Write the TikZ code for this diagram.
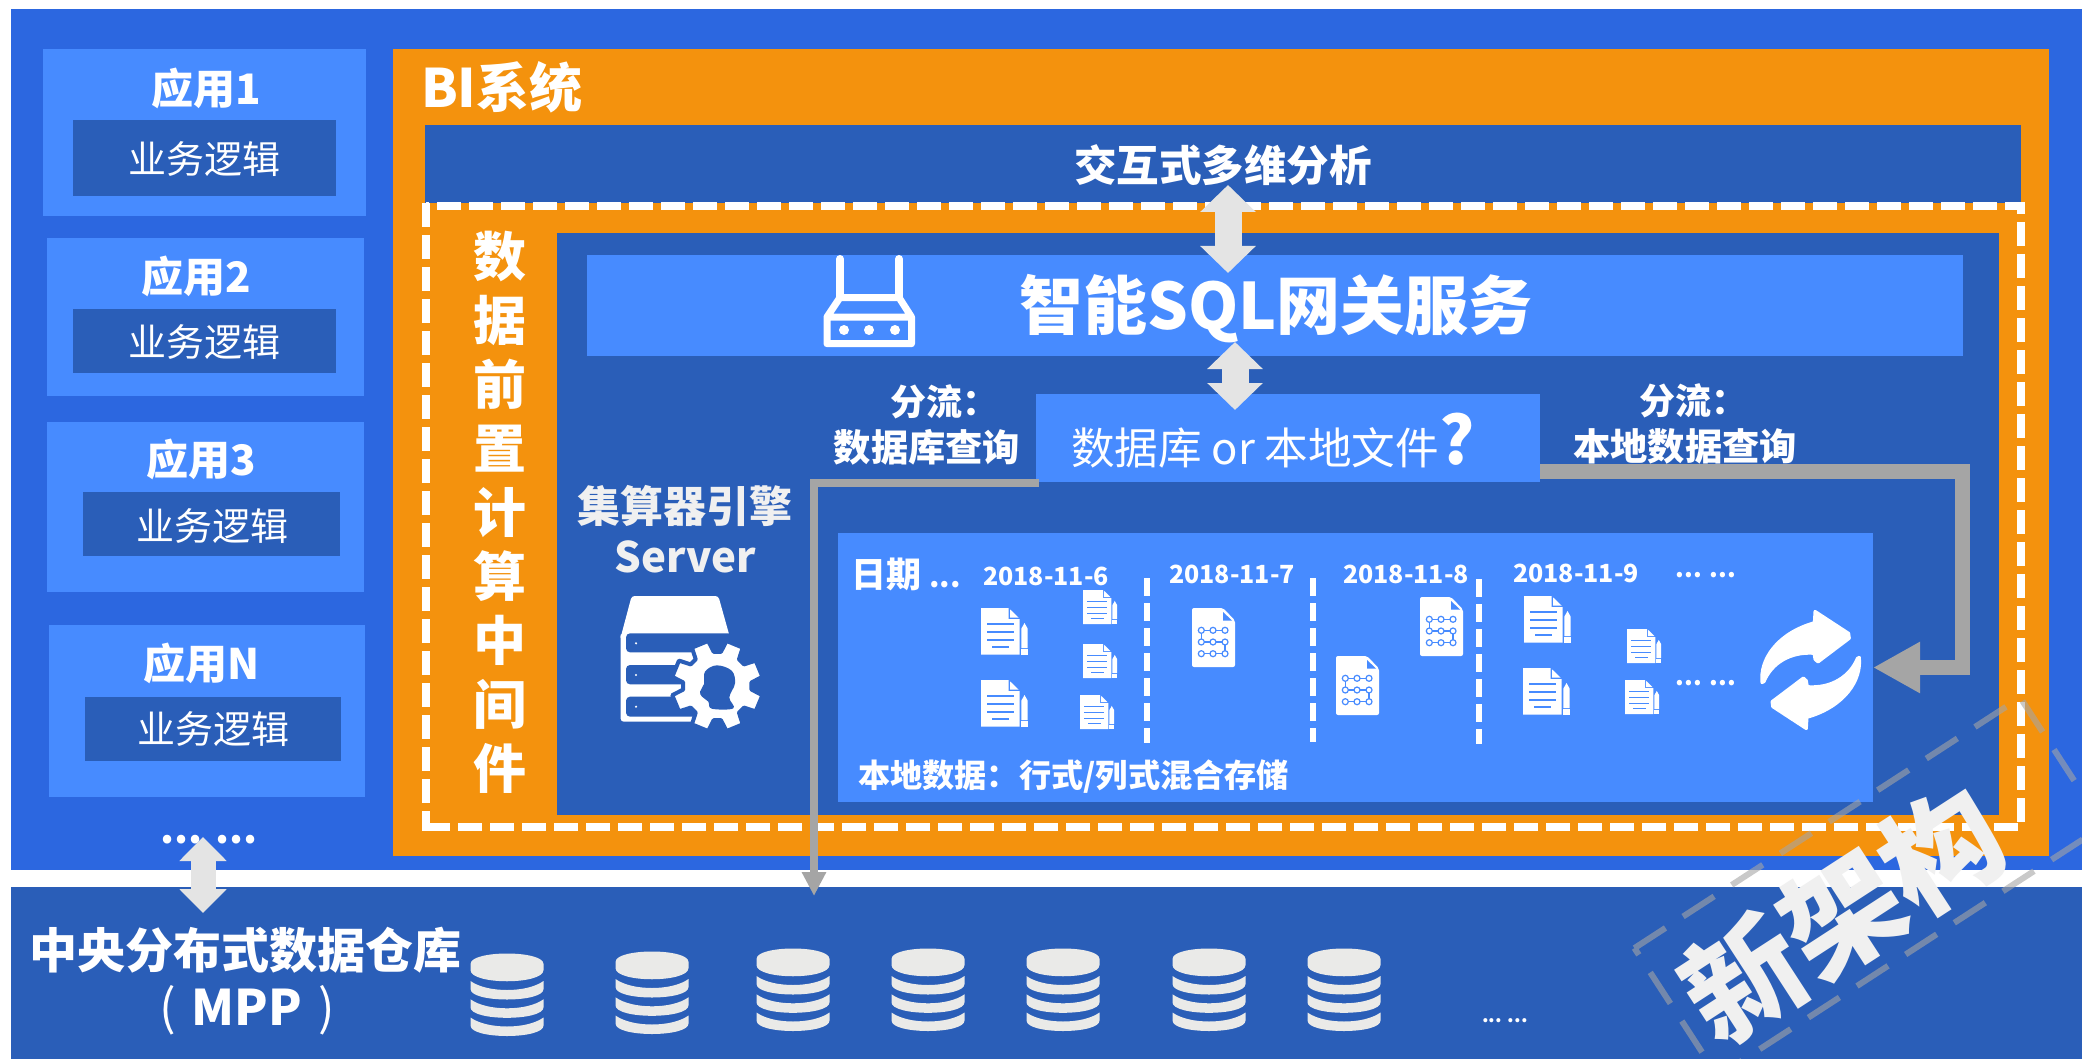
\documentclass[tikz,border=0pt]{standalone}
\usepackage{fontspec}
\setmainfont{Noto Sans CJK SC}
\usetikzlibrary{arrows.meta}
\definecolor{bgblue}{RGB}{44,103,224}
\definecolor{ltblue}{RGB}{71,139,255}
\definecolor{dkblue}{RGB}{42,94,184}
\definecolor{orng}{RGB}{244,146,13}
\definecolor{midgray}{RGB}{165,165,165}
\definecolor{ltgray}{RGB}{228,228,228}
\definecolor{dbgray}{RGB}{234,234,232}
\definecolor{softwhite}{RGB}{240,240,240}
\newcommand\fsz[1]{\fontsize{#1}{#1}\selectfont}
\newcommand\rbox[6]{%
  \pgfmathsetmacro\bw{#4-#2}\pgfmathsetmacro\bh{#5-#3}%
  \pgfmathsetmacro\bcx{(#4+#2)/2}\pgfmathsetmacro\bcy{(#5+#3)/2}%
  \node[rbase,fill=#6,minimum width=\bw pt,minimum height=\bh pt] (#1) at (\bcx,\bcy) {};}
\tikzset{
  rbase/.style={rectangle,inner sep=0pt,outer sep=0pt,draw=none},
  lbl/.style={inner sep=0pt,outer sep=0pt,text=white},
  twoway/.style={ltgray,line width=27pt,{Triangle[length=27pt,width=54pt]}-{Triangle[length=27pt,width=54pt]}},
  pics/dbicon/.style={code={
    \fill[dbgray] (-36.5,11) .. controls (-36.5,-3) and (36.5,-3) .. (36.5,11) -- (36.5,17) .. controls (36.5,32) and (-36.5,32) .. (-36.5,17) -- cycle;
    \foreach \o in {0,18.3,36.5}{
      \fill[dbgray] (-36.5,28+\o) .. controls (-20,40+\o) and (20,40+\o) .. (36.5,28+\o) -- (36.5,36+\o) .. controls (36.5,50+\o) and (-36.5,50+\o) .. (-36.5,36+\o) -- cycle;
    }}},
  pics/docicon/.style={code={
    \fill[white] (0,0) -- (27.7,0) -- (27.7,11) -- (38.7,11) -- (38.7,46.7) -- (0,46.7) -- cycle;
    \fill[white] (29,1.3) -- (37.7,9.7) -- (29,9.7) -- cycle;
    \fill[ltblue] (6,15.3) rectangle (33.3,16.8);
    \fill[ltblue] (6,23) rectangle (33.3,24.5);
    \fill[ltblue] (6,31.2) rectangle (33.3,32.7);
    \fill[ltblue] (11,38) rectangle (28.3,39.5);
    \fill[white] (43.5,15) -- (46.7,20.7) -- (46.7,40) -- (40.3,40) -- (40.3,20.7) -- cycle;
    \fill[white] (40.3,41) rectangle (46.7,46.7);
  }},
  pics/flowdoc/.style={code={
    \fill[white,rounded corners=2pt] (0,0) -- (31,0) -- (43,12.5) -- (43,59) -- (0,59) -- cycle;
    \fill[ltblue] (31,4) -- (40,12.5) -- (31,12.5) -- cycle;
    \draw[ltblue,line width=1.2pt] (9.3,22.3) -- (33,22.3) (9.3,34) -- (33,34) (9.3,45.7) -- (33,45.7) (9.3,22.3) -- (9.3,34) (33,34) -- (33,45.7);
    \foreach \cx in {9.3,21,33}\foreach \cy in {22.3,34,45.7}{
      \filldraw[fill=white,draw=ltblue,line width=1.2pt] (\cx,\cy) circle[radius=3pt];
    }
  }},
}
\begin{document}
\begin{tikzpicture}[x=1pt,y=-1pt]
\useasboundingbox (0,0) rectangle (2082,1059);
\clip (0,0) rectangle (2082,1059);
\fill[white] (0,0) rectangle (2082,1059);
% panels
\rbox{back}{11}{9}{2082}{870}{bgblue}
\rbox{wh}{11}{887}{2082}{1059}{dkblue}
\rbox{app1}{43}{49}{366}{216}{ltblue}
\rbox{logic1}{73}{120}{336}{196}{dkblue}
\rbox{app2}{47}{238}{364}{396}{ltblue}
\rbox{logic2}{73}{309}{336}{373}{dkblue}
\rbox{app3}{47}{422}{364}{592}{ltblue}
\rbox{logic3}{83}{492}{340}{556}{dkblue}
\rbox{appn}{49}{625}{365}{797}{ltblue}
\rbox{logicn}{85}{697}{341}{761}{dkblue}
\rbox{bi}{393}{49}{2049}{856}{orng}
\rbox{inter}{425}{125}{2021}{203}{dkblue}
\node[rbase,minimum width=1595pt,minimum height=621pt] (mid) at (1223.5,516.5) {};
\draw[white,line width=7.5pt,dash pattern=on 24pt off 8pt,dash phase=21pt] (mid.north west) -- (mid.north east) -- (mid.south east) -- (mid.south west);
\draw[white,line width=7.5pt,dash pattern=on 24pt off 8pt,dash phase=31pt] ([yshift=4pt]mid.north west) -- ([yshift=-4pt]mid.south west);
\rbox{panel}{557}{233}{1999}{815}{dkblue}
\rbox{gw}{587}{255}{1963}{356}{ltblue}
\rbox{qbox}{1036}{394}{1540}{482}{ltblue}
\rbox{lbox}{838}{533}{1873}{802}{ltblue}
% left texts
\node[lbl,font=\bfseries\fsz{42}] (t1) at (206,88) {应用1};
\node[lbl,font=\fsz{38}] (l1) at (204,159) {业务逻辑};
\node[lbl,font=\bfseries\fsz{42}] (t2) at (196,276) {应用2};
\node[lbl,font=\fsz{38}] (l2) at (204,342) {业务逻辑};
\node[lbl,font=\bfseries\fsz{42}] (t3) at (201,459) {应用3};
\node[lbl,font=\fsz{38}] (l3) at (212,526) {业务逻辑};
\node[lbl,font=\bfseries\fsz{42}] (tn) at (202,663) {应用N};
\node[lbl,font=\fsz{38}] (ln) at (213,729) {业务逻辑};
\node[lbl,font=\bfseries\fsz{40}] (appdots) at (209,840) {... ...};
% BI
\node[lbl,font=\bfseries\fsz{53},anchor=west] (bit) at (421,87) {BI系统};
\node[lbl,font=\bfseries\fsz{42.5}] (intert) at (1223,165) {交互式多维分析};
\node[lbl,align=center,font=\bfseries\fontsize{53}{64}\selectfont] (midt) at (500,512) {数\\据\\前\\置\\计\\算\\中\\间\\件};
\node[lbl,font=\bfseries\fsz{64}] (gwt) at (1276,309) {智能SQL网关服务};
\node[lbl,font=\bfseries\fsz{36},anchor=west] (f1) at (890,402) {分流：};
\node[lbl,font=\bfseries\fsz{37.3}] (f2) at (927,447) {数据库查询};
\node[lbl,font=\bfseries\fsz{36},anchor=west] (f3) at (1639,401) {分流：};
\node[lbl,font=\bfseries\fsz{37.3}] (f4) at (1685,446) {本地数据查询};
\node[lbl,font=\fsz{43.6},anchor=west] (qt) at (1071,441) {数据库 or 本地文件{\bfseries\fsz{66}?}};
\node[lbl,text=softwhite,font=\bfseries\fsz{43}] (eng) at (685,506) {集算器引擎};
\node[lbl,text=softwhite,font=\bfseries\fsz{42}] (srv) at (685,557) {Server};
% local
\node[lbl,font=\bfseries\fsz{35},anchor=west] (date) at (851,574) {日期 {\fsz{30}...}};
\node[lbl,font=\bfseries\fsz{25}] (d6) at (1046,576) {2018-11-6};
\node[lbl,font=\bfseries\fsz{25}] (d7) at (1232,574) {2018-11-7};
\node[lbl,font=\bfseries\fsz{25}] (d8) at (1406,574) {2018-11-8};
\node[lbl,font=\bfseries\fsz{25}] (d9) at (1576,573) {2018-11-9};
\node[lbl,font=\bfseries\fsz{25}] (dd1) at (1706,575) {... ...};
\node[lbl,font=\bfseries\fsz{25}] (dd2) at (1706,683) {... ...};
\node[lbl,font=\bfseries\fsz{32.2},anchor=west] (store) at (858,777) {本地数据：行式/列式混合存储};
\foreach \xx/\ya/\yb in {1147/578/743,1312.5/578/742,1479/579/744}{
  \draw[white,line width=6pt,dash pattern=on 18pt off 7pt] (\xx,\ya) -- (\xx,\yb);
}
% doc icons
\pic at (981,608) {docicon};
\pic at (981,680) {docicon};
\pic at (1524,596) {docicon};
\pic at (1523,668) {docicon};
\pic[scale=.73] at (1083,590) {docicon};
\pic[scale=.73] at (1083,644) {docicon};
\pic[scale=.73] at (1080,695) {docicon};
\pic[scale=.73] at (1627,629) {docicon};
\pic[scale=.73] at (1625,680) {docicon};
\pic at (1192,608) {flowdoc};
\pic at (1336,656) {flowdoc};
\pic at (1420,597) {flowdoc};
% sync icon
\begin{scope}[shift={(1740,600)},scale=.33333]
  \foreach \rr in {0,180}{
  \begin{scope}[rotate around={\rr:(212,210)}]
    \filldraw[white,line width=3pt,line join=round] (66,248) .. controls (58,180) and (110,100) .. (223,68) -- (225,34) -- (326,100) -- (328,115) -- (234,186) -- (225,178) -- (222,160) .. controls (150,155) and (95,190) .. (72,245) -- cycle;
  \end{scope}}
\end{scope}
% server icon
\begin{scope}[shift={(600,580)},scale=.33333]
  \fill[white,rounded corners=3pt] (62,172) -- (95,48) -- (355,48) -- (392,180) -- (375,180) -- (375,165) -- (62,165) -- cycle;
  \fill[white,rounded corners=3pt] (62,160) rectangle (300,425);
  \fill[dkblue,rounded corners=4pt] (78,160) rectangle (400,217);
  \fill[dkblue,rounded corners=4pt] (78,255) rectangle (400,313);
  \fill[dkblue,rounded corners=4pt] (78,350) rectangle (400,410);
  \foreach \yy in {190,285,380}{\fill[white] (108,\yy) circle[radius=3.5pt];}
  \begin{scope}[shift={(352,318)}]
    \draw[fill=white,draw=dkblue,line width=4pt,line join=round]
      (6:103) -- (11.5:138) -- (33.5:138) -- (39:103)
      -- (51:103) -- (56.5:138) -- (78.5:138) -- (84:103)
      -- (96:103) -- (101.5:138) -- (123.5:138) -- (129:103)
      -- (141:103) -- (146.5:138) -- (168.5:138) -- (174:103)
      -- (186:103) -- (191.5:138) -- (213.5:138) -- (219:103)
      -- (231:103) -- (236.5:138) -- (258.5:138) -- (264:103)
      -- (276:103) -- (281.5:138) -- (303.5:138) -- (309:103)
      -- (321:103) -- (326.5:138) -- (348.5:138) -- (354:103) -- cycle;
  \end{scope}
  \fill[dkblue] plot[smooth cycle,tension=.6] coordinates {(350,256) (395,272) (405,310) (388,352) (400,385) (335,386) (325,365) (306,350) (300,335) (312,312) (315,275)};
\end{scope}
% router icon
\draw[white,line width=7pt,line join=round,line cap=round] (840,297.5) -- (899,297.5) -- (911.5,317) -- (911.5,343.7) -- (827,343.7) -- (827,317) -- cycle (827,317) -- (911.5,317);
\draw[white,line width=8pt,line cap=round] (840,259) -- (840,297) (899,259) -- (899,297);
\foreach \xx in {844,869,895}{\fill[white] (\xx,330) circle[radius=5pt];}
% db icons
\pic at (507,953) {dbicon};
\pic at (652,951) {dbicon};
\pic at (793,948) {dbicon};
\pic at (928,948) {dbicon};
\pic at (1063,948) {dbicon};
\pic at (1209,948) {dbicon};
\pic at (1344,948) {dbicon};
% bottom texts
\node[lbl,font=\bfseries\fsz{48}] (dw) at (245,950) {中央分布式数据仓库};
\node[lbl,font=\bfseries\fsz{49}] (mpp) at (247,1010) {{\mdseries(}\hspace{5pt} MPP \hspace{5pt}{\mdseries)}};
\node[lbl,font=\bfseries\fsz{19}] (dbdots) at (1505,1021) {... ...};
% connectors
\coordinate (a1t) at (1228,185);
\coordinate (a1b) at (1228,273);
\coordinate (a2t) at (1235,342);
\coordinate (a2b) at (1235,410);
\coordinate (a3t) at (203,837);
\coordinate (a3b) at (203,913);
\draw[twoway] (a1t) -- (a1b);
\draw[twoway] (a2t) -- (a2b);
\draw[ltgray,line width=25pt,{Triangle[length=24pt,width=46pt]}-{Triangle[length=24pt,width=46pt]}] (a3t) -- (a3b);
\coordinate (lc) at (814,483);
\coordinate (lend) at (814,896);
\coordinate (rc) at (1962,471);
\coordinate (rd) at (1962,667.5);
\draw[midgray,line width=8pt,-{Triangle[length=24pt,width=23pt]}] ([xshift=3pt,yshift=-1pt]qbox.south west) -- (lc) -- (lend);
\draw[midgray,line width=15pt,-{Triangle[length=47pt,width=48pt]}] ([yshift=-33pt]qbox.east) -- (rc) -- (rd) -- (lbox.east);
% stamp
\node[rbase,rotate=33,minimum width=460pt,minimum height=153pt] (stampbox) at (1869,887) {};
\draw[midgray,draw opacity=.6,line width=6pt,dash pattern=on 37pt off 21pt] (stampbox.north west) -- (stampbox.north east) -- (stampbox.south east) -- (stampbox.south west) -- cycle;
\node[lbl,text=softwhite,rotate=33,font=\bfseries\fsz{118}] (stamp) at (1842,914) {新架构};
\end{tikzpicture}
\end{document}
